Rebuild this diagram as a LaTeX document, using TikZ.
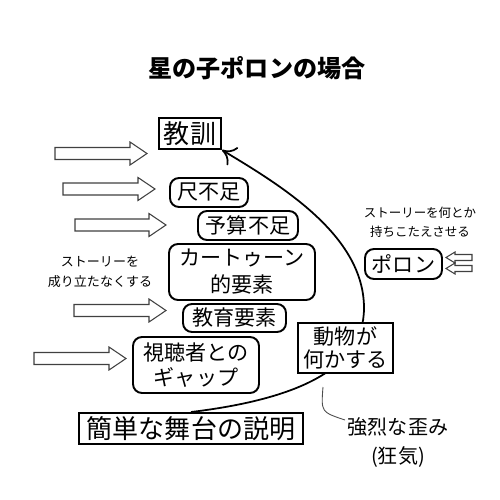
\documentclass[tikz,border=0pt]{standalone}
\usepackage{fontspec}
\setmainfont{Noto Sans CJK JP}
\usetikzlibrary{arrows.meta}
\newcommand\hollowarrow[6]{\draw[hollowline] ({#1},{#3-#4}) -- ({#2-(#6)},{#3-#4}) -- ({#2-(#6)},{#3-#5}) -- ({#2},{#3}) -- ({#2-(#6)},{#3+#5}) -- ({#2-(#6)},{#3+#4}) -- ({#1},{#3+#4}) -- cycle;}
\begin{document}
\begin{tikzpicture}[x=0.2mm,y=-0.2mm,
  rbox/.style={draw,line width=1.1pt,rounded corners=1.8mm,inner sep=0pt,align=center,fill=white,font=\fontsize{12}{14.2}\selectfont},
  sbox/.style={draw,line width=1.1pt,inner sep=0pt,align=center,fill=white},
  hollowline/.style={draw=black!75,line width=0.6pt,fill=white,line join=miter},
  note/.style={align=center,inner sep=0pt,font=\fontsize{7.1}{11}\selectfont},
]
\useasboundingbox (0,0) rectangle (500,500);
\node[font=\fontsize{13.7}{16}\selectfont\bfseries] (title) at (257,68) {星の子ポロンの場合};

\node[sbox,minimum width=62*0.2mm,minimum height=31*0.2mm,font=\fontsize{14.8}{16}\selectfont] (kyoukun) at (190,133.5) {教訓};
\node[sbox,minimum width=224*0.2mm,minimum height=31*0.2mm,font=\fontsize{14.8}{16}\selectfont] (kantan) at (191,428.5) {簡単な舞台の説明};

\draw[line width=1pt,-{To[length=2.6mm,width=4.2mm]}] (kantan.north) .. controls (290,400) and (364,372) .. (364,308) .. controls (364,235) and (280,185) .. (kyoukun.south east);

\node[rbox,minimum width=78*0.2mm,minimum height=29*0.2mm] (shaku) at (209,192.5) {尺不足};
\node[rbox,minimum width=100*0.2mm,minimum height=29*0.2mm] (yosan) at (248,225.5) {予算不足};
\node[rbox,minimum width=146*0.2mm,minimum height=56*0.2mm,font=\fontsize{12}{15.3}\selectfont] (cartoon) at (242,272) {カートゥーン\\的要素};
\node[rbox,minimum width=103*0.2mm,minimum height=28*0.2mm] (kyouiku) at (234.5,318) {教育要素};
\node[rbox,minimum width=126*0.2mm,minimum height=56*0.2mm] (gap) at (196,365) {視聴者との\\ギャップ};
\node[sbox,minimum width=95*0.2mm,minimum height=50*0.2mm,font=\fontsize{12}{13.2}\selectfont] (doubutsu) at (345.5,348) {動物が\\何かする};
\node[rbox,minimum width=77*0.2mm,minimum height=30*0.2mm] (poron) at (403.5,264) {ポロン};

\hollowarrow{55}{147}{153.5}{6}{11.5}{17}
\hollowarrow{63}{155}{189}{6}{11.5}{17}
\hollowarrow{75}{166}{225}{6}{11.5}{17}
\hollowarrow{74}{166}{310.5}{6}{11.5}{17}
\hollowarrow{34}{126}{358.5}{6}{11.5}{17}
\hollowarrow{472}{446}{257.5}{3}{5.5}{-9}
\hollowarrow{472}{446}{268.5}{3}{5.5}{-9}

\node[note] (n1) at (420,222.5) {ストーリーを何とか\\持ちこたえさせる};
\node[note,font=\fontsize{7.4}{11.3}\selectfont] (n2) at (100,272) {ストーリーを\\成り立たなくする};
\node[align=center,inner sep=0pt,font=\fontsize{11.4}{16.5}\selectfont] (kyouki) at (398,442.5) {強烈な歪み\\(狂気)};

\coordinate (c1) at (323,387);
\coordinate (c2) at (345,420);
\draw[line width=0.5pt,black!70] (c1) .. controls (321,412) .. (c2);
\end{tikzpicture}
\end{document}
